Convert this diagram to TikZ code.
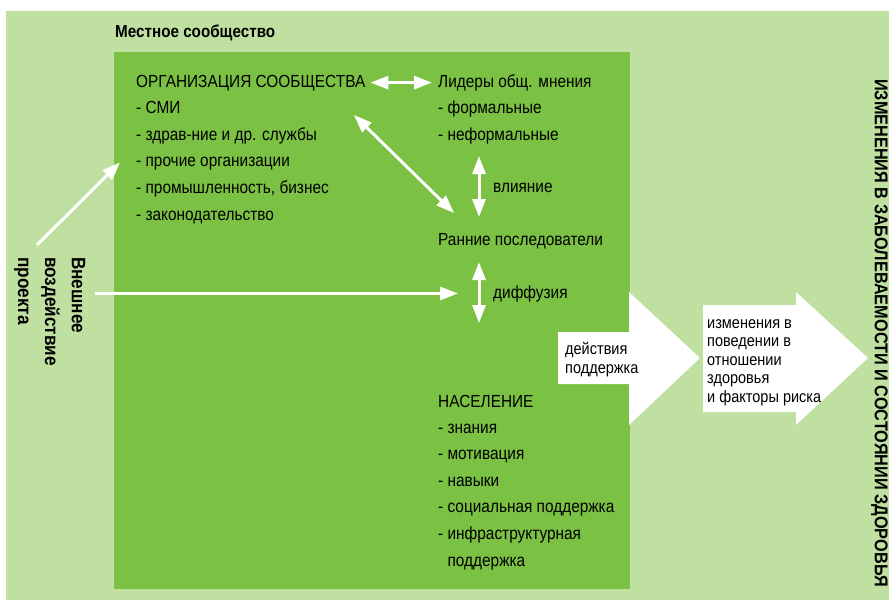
\documentclass[tikz,border=0pt]{standalone}
\usepackage{fontspec}
\setmainfont{Liberation Sans}[FakeStretch=0.88]
\usepackage{xcolor}
\usetikzlibrary{arrows.meta, positioning}
\definecolor{paleleaf}{RGB}{191, 224, 161}
\definecolor{leafgreen}{RGB}{123, 193, 67}

\begin{document}
\begin{tikzpicture}[
    x=1pt, y=-1pt,
    font=\fontsize{17.5}{26.6}\selectfont,
    % Style definitions
    listtext/.style={align=left, inner sep=0pt, anchor=base west},
    headtext/.style={font=\fontsize{17.3}{19}\selectfont\bfseries, inner sep=0pt, anchor=base west},
    arrowtext/.style={align=left, inner sep=0pt, anchor=base west, font=\fontsize{16.5}{18.4}\selectfont},
    sidetext/.style={align=left, inner sep=0pt, rotate=-90, font=\fontsize{19.5}{27}\selectfont\bfseries},
    blockarrow/.style={fill=white},
    whitearrow/.style={-{Triangle[length=18pt, width=13pt]}, line width=3pt, white},
    dblarrow/.style={{Triangle[length=18pt, width=13pt]}-{Triangle[length=18pt, width=13pt]}, line width=3pt, white}
]

    % === BACKGROUND ===
    \useasboundingbox (0,0) rectangle (889,600);
    \fill[paleleaf] (6,11) rectangle (889,600);
    \fill[leafgreen] (114,52) rectangle (630,589);

    % === BLOCK ARROWS ===
    \fill[blockarrow] (558,332) -- (629,332) -- (629,292) -- (700,358) -- (629,425) -- (629,384) -- (558,384) -- cycle;
    \fill[blockarrow] (703,305) -- (796,305) -- (796,292) -- (868,358) -- (796,425) -- (796,412) -- (703,412) -- cycle;

    % === COMMUNITY ===
    \node (community) [headtext] at (115,37) {Местное сообщество};

    % (lists are anchored at the baseline of their last line)
    \node (orgtitle) [listtext] at (136,87) {ОРГАНИЗАЦИЯ СООБЩЕСТВА};
    \node (orglist) [listtext] at (136,220) {- СМИ\\- здрав-ние и др. службы\\- прочие организации\\- промышленность, бизнес\\- законодательство};

    \node (leadtitle) [listtext] at (438,87) {Лидеры общ. мнения};
    \node (leadlist) [listtext] at (438,140) {- формальные\\- неформальные};

    \node (infl) [listtext] at (493,192) {влияние};
    \node (early) [listtext] at (438,245) {Ранние последователи};
    \node (diffusion) [listtext] at (493,298) {диффузия};

    \node (poptitle) [listtext] at (438,407) {НАСЕЛЕНИЕ};
    \node (poplist) [listtext] at (438,566) {- знания\\- мотивация\\- навыки\\- социальная поддержка\\- инфраструктурная\\\hphantom{-}\ поддержка};

    % === OUTSIDE ===
    \node (impact) [sidetext, anchor=base west] at (18,257) {Внешнее\\воздействие\\проекта};

    \node (action) [arrowtext] at (565,373) {действия\\поддержка};
    \node (behaviour) [arrowtext] at (707,402) {изменения в\\поведении в\\отношении\\здоровья\\и факторы риска};

    \node (outcome) [font=\fontsize{18.5}{20}\selectfont\bfseries, inner sep=0pt, rotate=-90] at (879.5,333) {ИЗМЕНЕНИЯ В ЗАБОЛЕВАЕМОСТИ И СОСТОЯНИИ ЗДОРОВЬЯ};

    % === CONNECTORS ===
    \draw [whitearrow] ([shift={(19,-12)}]impact.base west) -- ([xshift=-16pt]orglist.west);
    \draw [whitearrow] ([xshift=77pt]impact.base west |- diffusion.west) -- ([xshift=-35pt]diffusion.west);
    \draw [dblarrow] ([xshift=5pt]orgtitle.east) -- ([xshift=-6pt]leadtitle.west |- orgtitle.east);
    \draw [dblarrow] ([shift={(218,28)}]orgtitle.base west) -- ([shift={(16,-32)}]early.base west);
    \draw [dblarrow] ([shift={(-14,-36)}]infl.base west) -- ([shift={(-14,25)}]infl.base west);
    \draw [dblarrow] ([shift={(-14,-36)}]diffusion.base west) -- ([shift={(-14,25)}]diffusion.base west);

\end{tikzpicture}
\end{document}
